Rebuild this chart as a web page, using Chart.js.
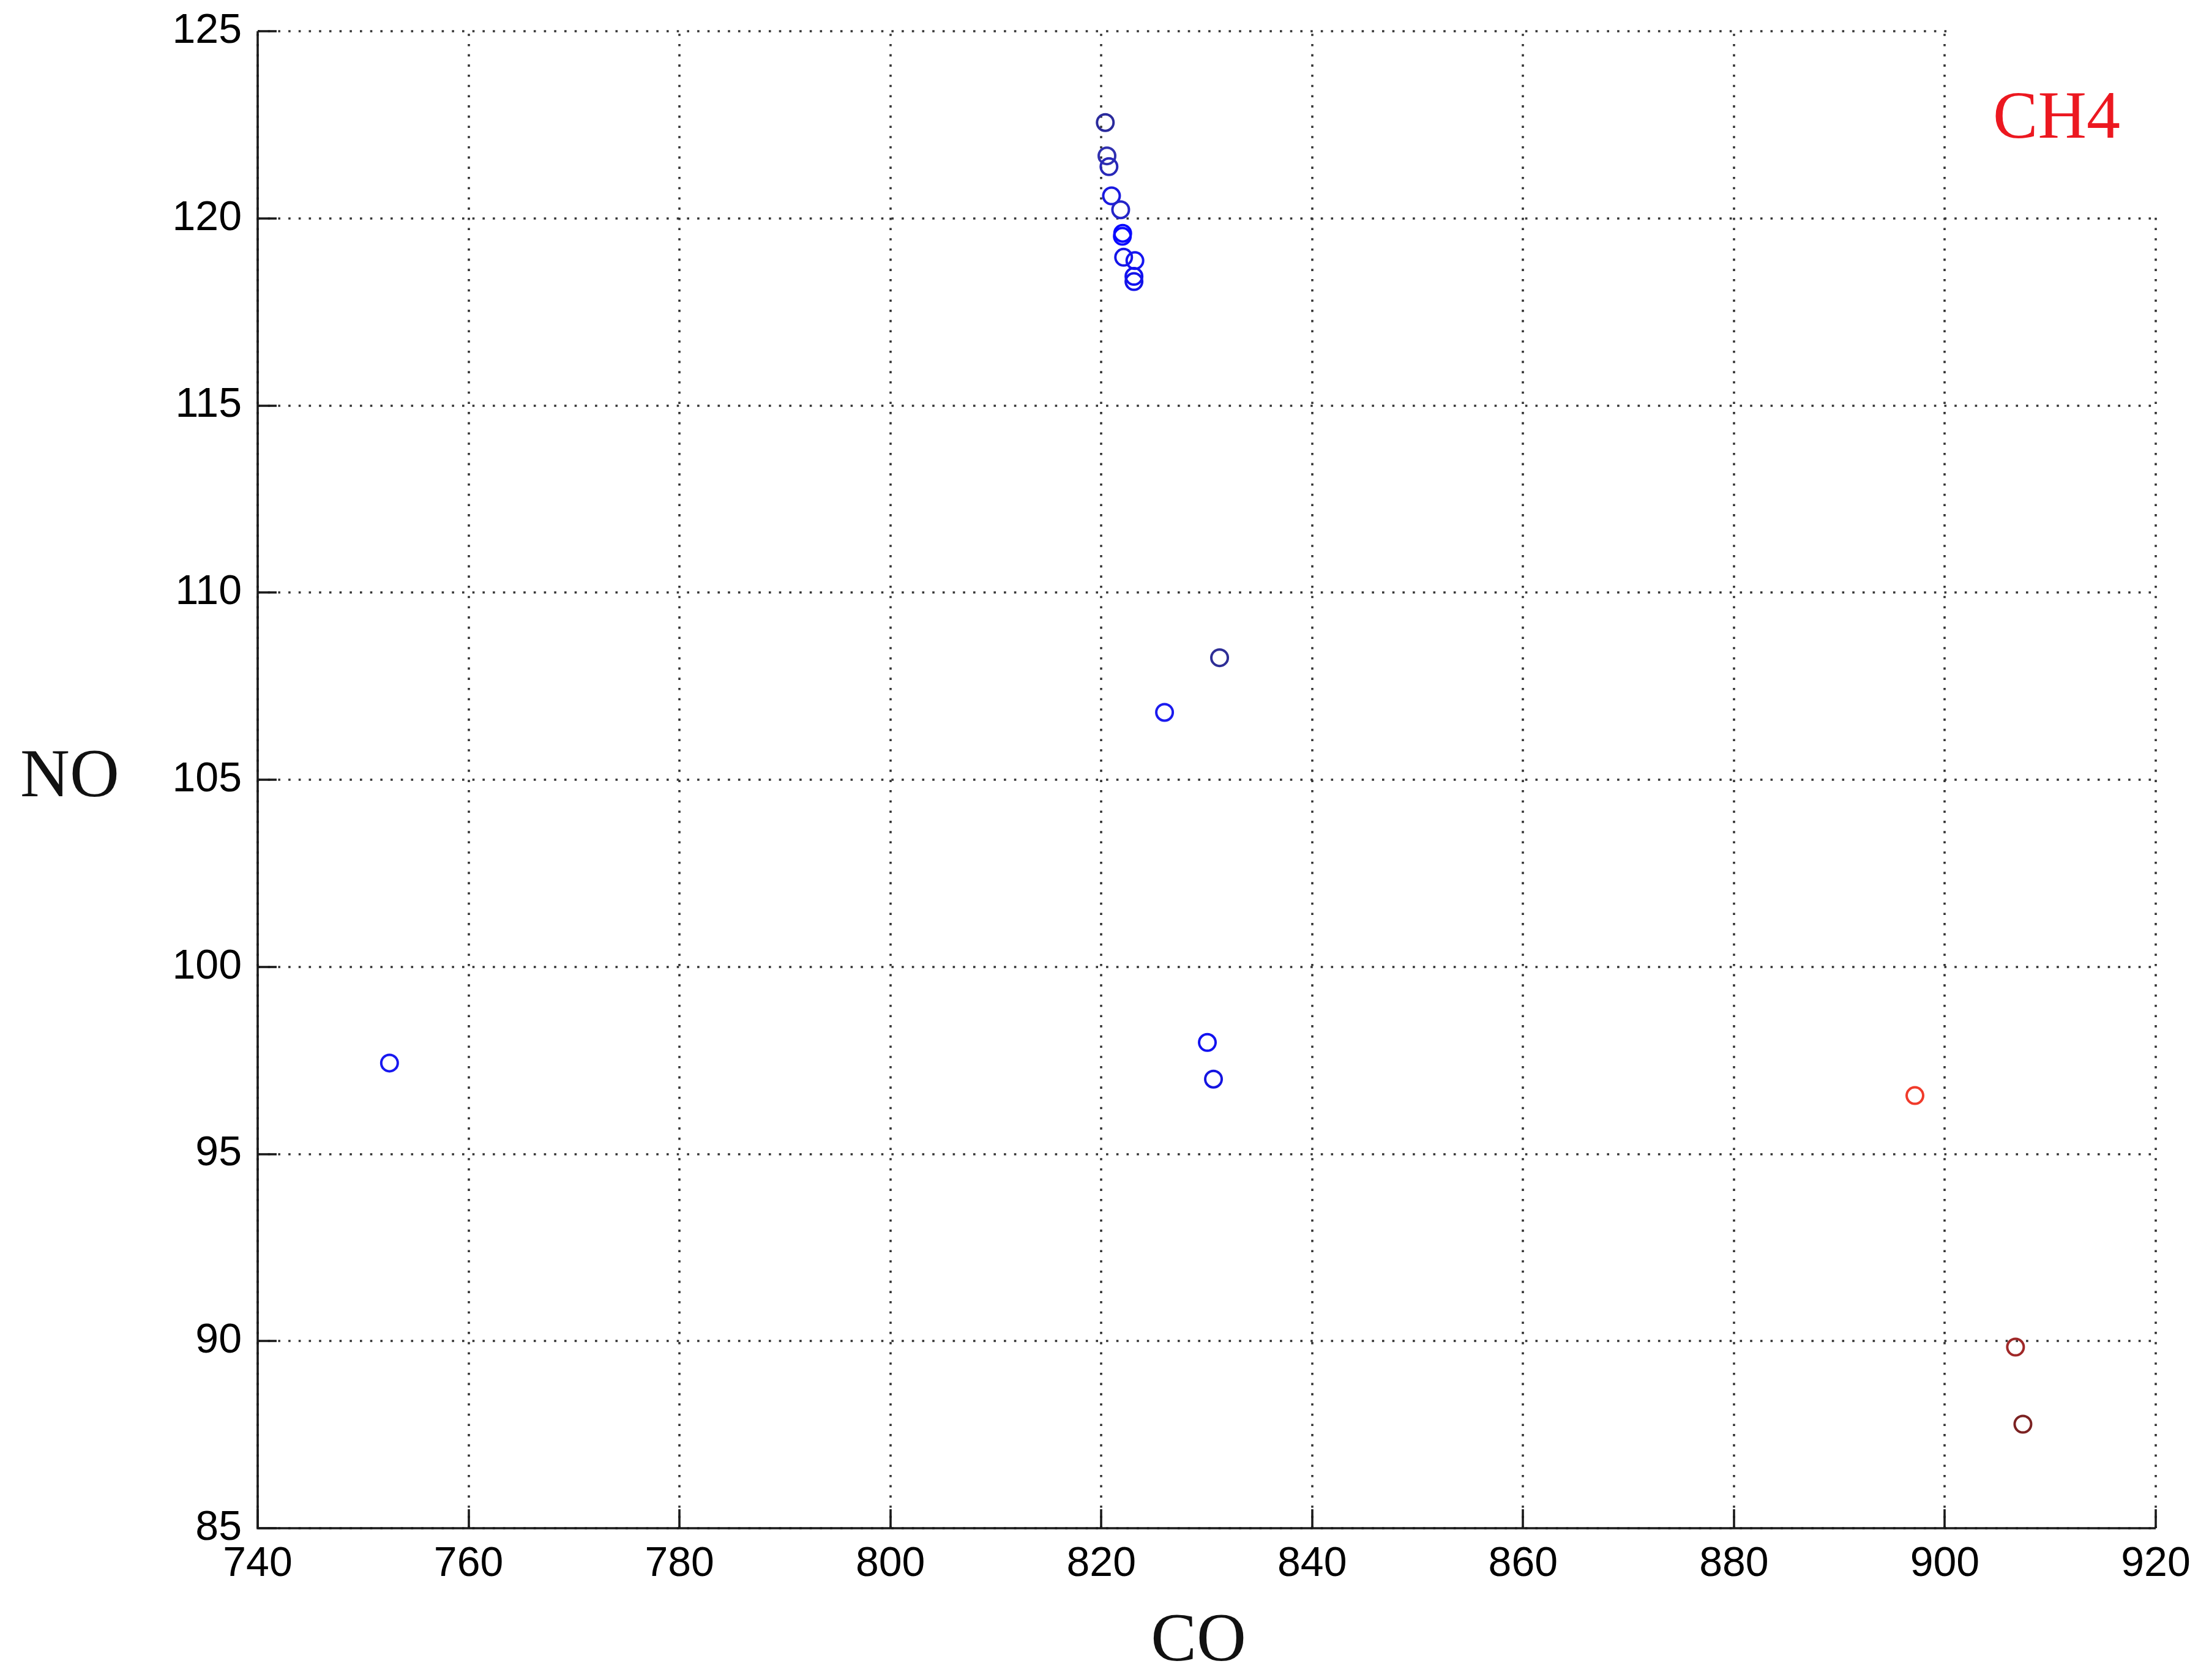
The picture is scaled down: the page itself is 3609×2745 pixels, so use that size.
<!DOCTYPE html>
<html>
<head>
<meta charset="utf-8">
<script src="https://cdn.jsdelivr.net/npm/chart.js@4.4.1/dist/chart.umd.min.js"></script>
<style>
html,body{margin:0;padding:0;background:#fff;}
#wrap{width:3609px;height:2745px;}
</style>
</head>
<body>
<div id="wrap"><canvas id="c" width="3609" height="2745"></canvas></div>
<script>
// ---- data ----
const blueCO = [820.38, 820.54, 820.73, 820.97, 821.84, 822.03, 822.00, 822.12, 823.19, 823.10, 823.10, 831.22, 826.00, 830.06, 830.64, 752.50];
const blueNO = [122.56, 121.67, 121.38, 120.60, 120.23, 119.60, 119.52, 118.96, 118.87, 118.45, 118.31, 108.26, 106.80, 97.98, 97.00, 97.43];
const redCO = [897.16, 906.70, 907.40];
const redNO = [96.56, 89.84, 87.78];
const xTickValues = [740, 760, 780, 800, 820, 840, 860, 880, 900, 920];
const yTickValues = [85, 90, 95, 100, 105, 110, 115, 120, 125];
const xTitle = 'CO';
const yTitle = 'NO';
const legendText = 'CH4';

// ---- styles ----
const blueColors = ['#2a2a9c','#3030b0','#2828b8','#1a1ae0','#2424c8','#0a0aff','#0a0aff','#1515e8','#1515f0','#1010f0','#1212e8','#2e2e96','#1a1aee','#1212f0','#1515e0','#1818f0'];
const redColors = ['#f03a2a','#a02828','#7c2222'];

const toPts = (xs, ys) => xs.map((x, i) => ({x: x, y: ys[i]}));

const decor = {
  id: 'decor',
  beforeDatasetsDraw(chart) {
    const ctx = chart.ctx;
    const xs = chart.scales.x, ys = chart.scales.y;
    const a = chart.chartArea;
    ctx.save();
    // dotted grid
    ctx.strokeStyle = '#333';
    ctx.lineWidth = 3.6;
    ctx.setLineDash([3.6, 13.1]);
    xTickValues.forEach(v => {
      const px = Math.round(xs.getPixelForValue(v));
      ctx.beginPath(); ctx.moveTo(px, a.bottom); ctx.lineTo(px, a.top); ctx.stroke();
    });
    yTickValues.forEach(v => {
      const py = Math.round(ys.getPixelForValue(v));
      ctx.beginPath(); ctx.moveTo(a.left, py); ctx.lineTo(a.right, py); ctx.stroke();
    });
    ctx.setLineDash([]);
    // legend box (white, no border) covering the top-right corner
    const bx = xs.getPixelForValue(900) + 6;
    const by = ys.getPixelForValue(120) - 6;
    ctx.fillStyle = '#fff';
    ctx.fillRect(bx, 0, chart.width - bx, by);
    ctx.fillStyle = 'rgb(236,24,32)';
    ctx.font = '110px "Liberation Serif", "Times New Roman", serif';
    ctx.textAlign = 'center';
    ctx.textBaseline = 'middle';
    ctx.fillText(legendText, 3360, 196);
    // axes
    ctx.strokeStyle = '#1a1a1a';
    ctx.lineWidth = 3.6;
    ctx.beginPath();
    ctx.moveTo(a.left, a.top); ctx.lineTo(a.left, a.bottom); ctx.lineTo(a.right, a.bottom);
    ctx.stroke();
    // inward tick marks
    xTickValues.forEach(v => {
      const px = Math.round(xs.getPixelForValue(v));
      ctx.beginPath(); ctx.moveTo(px, a.bottom); ctx.lineTo(px, a.bottom - 31); ctx.stroke();
    });
    yTickValues.forEach(v => {
      const py = Math.round(ys.getPixelForValue(v));
      ctx.beginPath(); ctx.moveTo(a.left, py); ctx.lineTo(a.left + 31, py); ctx.stroke();
    });
    // axis titles
    ctx.fillStyle = '#111';
    ctx.font = '112px "Liberation Serif", "Times New Roman", serif';
    ctx.textAlign = 'center';
    ctx.textBaseline = 'middle';
    ctx.fillText(xTitle, 1958, 2684);
    ctx.fillText(yTitle, 114, 1272);
    ctx.restore();
  }
};

new Chart(document.getElementById('c'), {
  type: 'scatter',
  data: {
    datasets: [
      {label: 'blue', data: toPts(blueCO, blueNO), borderColor: blueColors, pointBorderColor: blueColors, backgroundColor: 'rgba(0,0,0,0)', pointBackgroundColor: 'rgba(0,0,0,0)', pointRadius: 13.5, pointBorderWidth: 4, pointHoverRadius: 13.5},
      {label: 'red', data: toPts(redCO, redNO), borderColor: redColors, pointBorderColor: redColors, backgroundColor: 'rgba(0,0,0,0)', pointBackgroundColor: 'rgba(0,0,0,0)', pointRadius: 13.5, pointBorderWidth: 4, pointHoverRadius: 13.5}
    ]
  },
  options: {
    responsive: false,
    animation: false,
    devicePixelRatio: 1,
    layout: {padding: {left: 0, right: 87, top: 51, bottom: 0}},
    plugins: {legend: {display: false}, tooltip: {enabled: false}},
    scales: {
      x: {
        type: 'linear', min: 740, max: 920,
        afterBuildTicks: s => { s.ticks = xTickValues.map(v => ({value: v})); },
        afterFit: s => { s.height = 248; s.paddingLeft = 0; s.paddingRight = 0; s.paddingTop = 0; s.paddingBottom = 0; },
        grid: {display: false, drawTicks: false},
        border: {display: false},
        ticks: {color: '#000', padding: 18, maxRotation: 0, autoSkip: false,
                font: {family: '"Liberation Sans", Arial, sans-serif', size: 68}}
      },
      y: {
        type: 'linear', min: 85, max: 125,
        afterBuildTicks: s => { s.ticks = yTickValues.map(v => ({value: v})); },
        afterFit: s => { s.width = 421; s.paddingLeft = 0; s.paddingRight = 0; s.paddingTop = 0; s.paddingBottom = 0; },
        grid: {display: false, drawTicks: false},
        border: {display: false},
        ticks: {color: '#000', padding: 26, autoSkip: false,
                font: {family: '"Liberation Sans", Arial, sans-serif', size: 68}}
      }
    }
  },
  plugins: [decor]
});
</script>
</body>
</html>
